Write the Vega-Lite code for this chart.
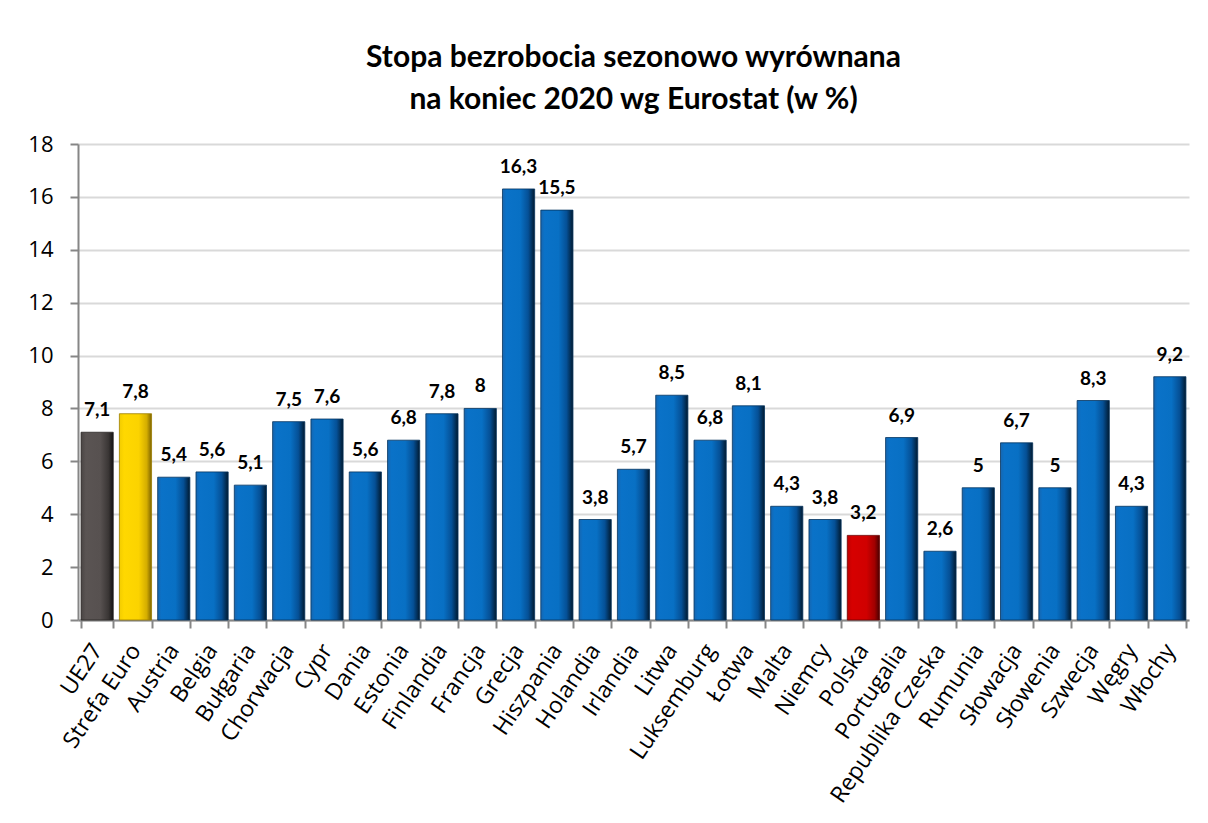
{
  "$schema": "https://vega.github.io/schema/vega-lite/v6.json",
  "width": 1111,
  "height": 476,
  "autosize": {"type": "none"},
  "padding": {"left": 78, "top": 144, "right": 19, "bottom": 203},
  "background": "white",
  "config": {
    "locale": {"number": {"decimal": ",", "thousands": " ", "grouping": [3], "currency": ["", " zł"]}},
    "font": "Lato",
    "view": {"stroke": null},
    "title": {"font": "Lato", "fontSize": 30, "fontWeight": "bold", "color": "#000000", "anchor": "middle", "lineHeight": 42, "offset": 18}
  },
  "title": {"text": ["Stopa bezrobocia sezonowo wyrównana", "na koniec 2020 wg Eurostat (w %)"]},
  "data": {
    "values": [
      {"kraj": "UE27", "wartosc": 7.1, "grupa": "ue"},
      {"kraj": "Strefa Euro", "wartosc": 7.8, "grupa": "euro"},
      {"kraj": "Austria", "wartosc": 5.4, "grupa": "kraj"},
      {"kraj": "Belgia", "wartosc": 5.6, "grupa": "kraj"},
      {"kraj": "Bułgaria", "wartosc": 5.1, "grupa": "kraj"},
      {"kraj": "Chorwacja", "wartosc": 7.5, "grupa": "kraj"},
      {"kraj": "Cypr", "wartosc": 7.6, "grupa": "kraj"},
      {"kraj": "Dania", "wartosc": 5.6, "grupa": "kraj"},
      {"kraj": "Estonia", "wartosc": 6.8, "grupa": "kraj"},
      {"kraj": "Finlandia", "wartosc": 7.8, "grupa": "kraj"},
      {"kraj": "Francja", "wartosc": 8, "grupa": "kraj"},
      {"kraj": "Grecja", "wartosc": 16.3, "grupa": "kraj"},
      {"kraj": "Hiszpania", "wartosc": 15.5, "grupa": "kraj"},
      {"kraj": "Holandia", "wartosc": 3.8, "grupa": "kraj"},
      {"kraj": "Irlandia", "wartosc": 5.7, "grupa": "kraj"},
      {"kraj": "Litwa", "wartosc": 8.5, "grupa": "kraj"},
      {"kraj": "Luksemburg", "wartosc": 6.8, "grupa": "kraj"},
      {"kraj": "Łotwa", "wartosc": 8.1, "grupa": "kraj"},
      {"kraj": "Malta", "wartosc": 4.3, "grupa": "kraj"},
      {"kraj": "Niemcy", "wartosc": 3.8, "grupa": "kraj"},
      {"kraj": "Polska", "wartosc": 3.2, "grupa": "polska"},
      {"kraj": "Portugalia", "wartosc": 6.9, "grupa": "kraj"},
      {"kraj": "Republika Czeska", "wartosc": 2.6, "grupa": "kraj"},
      {"kraj": "Rumunia", "wartosc": 5, "grupa": "kraj"},
      {"kraj": "Słowacja", "wartosc": 6.7, "grupa": "kraj"},
      {"kraj": "Słowenia", "wartosc": 5, "grupa": "kraj"},
      {"kraj": "Szwecja", "wartosc": 8.3, "grupa": "kraj"},
      {"kraj": "Węgry", "wartosc": 4.3, "grupa": "kraj"},
      {"kraj": "Włochy", "wartosc": 9.2, "grupa": "kraj"}
    ]
  },
  "encoding": {
    "x": {
      "field": "kraj", "type": "nominal", "sort": null,
      "scale": {"paddingInner": 0.16, "paddingOuter": 0.08,
        "domain": ["UE27", "Strefa Euro", "Austria", "Belgia", "Bułgaria", "Chorwacja", "Cypr", "Dania", "Estonia", "Finlandia", "Francja", "Grecja", "Hiszpania", "Holandia", "Irlandia", "Litwa", "Luksemburg", "Łotwa", "Malta", "Niemcy", "Polska", "Portugalia", "Republika Czeska", "Rumunia", "Słowacja", "Słowenia", "Szwecja", "Węgry", "Włochy"]},
      "axis": {
        "title": null, "labelAngle": -56, "labelAlign": "right", "labelBaseline": "middle",
        "labelFont": "Open Sans", "labelFontSize": 23, "labelColor": "#000000", "labelPadding": 18, "labelLimit": 0,
        "domainColor": "#868686", "domainWidth": 2, "tickColor": "#868686", "tickWidth": 2, "tickSize": 8,
        "tickBand": "extent", "grid": false, "labelOverlap": false
      }
    },
    "y": {
      "field": "wartosc", "type": "quantitative",
      "scale": {"domain": [0, 18], "nice": false},
      "axis": {
        "title": null, "values": [0, 2, 4, 6, 8, 10, 12, 14, 16, 18],
        "labelFont": "Open Sans", "labelFontSize": 22, "labelColor": "#000000", "labelPadding": 17,
        "domainColor": "#868686", "domainWidth": 2, "tickColor": "#868686", "tickWidth": 2, "tickSize": 8,
        "gridColor": "#d9d9d9", "gridWidth": 2
      }
    }
  },
  "layer": [
    {
      "transform": [{"filter": "datum.grupa === 'kraj'"}],
      "mark": {"type": "bar", "stroke": "#05335e", "strokeWidth": 0.8,
        "color": {"gradient": "linear", "x1": 0, "x2": 1, "y1": 0, "y2": 0,
          "stops": [{"offset": 0, "color": "#1766b0"}, {"offset": 0.12, "color": "#0a72c8"}, {"offset": 0.55, "color": "#0870c4"}, {"offset": 0.8, "color": "#055096"}, {"offset": 1, "color": "#011a30"}]}}
    },
    {
      "transform": [{"filter": "datum.grupa === 'ue'"}],
      "mark": {"type": "bar", "stroke": "#2a2625", "strokeWidth": 0.8,
        "color": {"gradient": "linear", "x1": 0, "x2": 1, "y1": 0, "y2": 0,
          "stops": [{"offset": 0, "color": "#4a4544"}, {"offset": 0.15, "color": "#5a5453"}, {"offset": 0.6, "color": "#575150"}, {"offset": 0.85, "color": "#3a3635"}, {"offset": 1, "color": "#141212"}]}}
    },
    {
      "transform": [{"filter": "datum.grupa === 'euro'"}],
      "mark": {"type": "bar", "stroke": "#9a7c00", "strokeWidth": 0.8,
        "color": {"gradient": "linear", "x1": 0, "x2": 1, "y1": 0, "y2": 0,
          "stops": [{"offset": 0, "color": "#f2cc00"}, {"offset": 0.15, "color": "#ffd800"}, {"offset": 0.6, "color": "#fbd300"}, {"offset": 0.85, "color": "#d4ad00"}, {"offset": 1, "color": "#7d6400"}]}}
    },
    {
      "transform": [{"filter": "datum.grupa === 'polska'"}],
      "mark": {"type": "bar", "stroke": "#6b0000", "strokeWidth": 0.8,
        "color": {"gradient": "linear", "x1": 0, "x2": 1, "y1": 0, "y2": 0,
          "stops": [{"offset": 0, "color": "#c00000"}, {"offset": 0.15, "color": "#d60000"}, {"offset": 0.6, "color": "#d00000"}, {"offset": 0.85, "color": "#a00000"}, {"offset": 1, "color": "#4a0000"}]}}
    },
    {
      "mark": {"type": "text", "dy": -22, "fontSize": 19, "fontWeight": "bold", "font": "Lato", "color": "#000000", "baseline": "middle"},
      "encoding": {"text": {"field": "wartosc", "type": "quantitative", "format": ".1~f"}}
    }
  ]
}
